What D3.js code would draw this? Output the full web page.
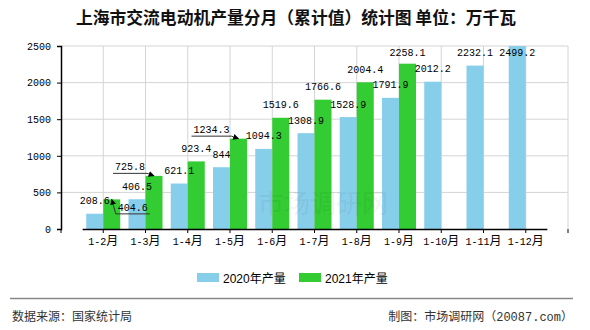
<!DOCTYPE html>
<html>
<head>
<meta charset="utf-8">
<script src="https://cdn.jsdelivr.net/npm/d3@7"></script>
<style>
  body { margin: 0; background: #fff; overflow: hidden; }
  svg { display: block; }
</style>
</head>
<body>
<div id="chart"></div>
<script>

// data
const months = ["1-2月", "1-3月", "1-4月", "1-5月", "1-6月", "1-7月", "1-8月", "1-9月", "1-10月", "1-11月", "1-12月"];
const prod2020 = [208.6, 406.5, 621.1, 844, 1094.3, 1308.9, 1528.9, 1791.9, 2012.2, 2232.1, 2499.2];
const prod2021 = [404.6, 725.8, 923.4, 1234.3, 1519.6, 1766.6, 2004.4, 2258.1, null, null, null];
const yTicks = [0, 500, 1000, 1500, 2000, 2500];
const seriesNames = ["2020年产量", "2021年产量"];

const width = 590;
const height = 330;
const margin = { top: 46, right: 22, bottom: 101, left: 61 };
const innerWidth = width - margin.left - margin.right;
const innerHeight = height - margin.top - margin.bottom;

const blue = "#87ceeb";
const green = "#33cc33";
const gridColor = "#d4d4d4";
const cjk = "'Noto Sans CJK SC', sans-serif";
const mono = "'Liberation Mono', 'Noto Sans CJK SC', monospace";

const svg = d3.select("#chart")
  .append("svg")
    .attr("width", width)
    .attr("height", height);

// arrow head for the moved labels
svg.append("defs")
  .append("marker")
    .attr("id", "arrow")
    .attr("viewBox", "0 0 10 10")
    .attr("refX", 9)
    .attr("refY", 5)
    .attr("markerWidth", 6)
    .attr("markerHeight", 6)
    .attr("orient", "auto")
  .append("path")
    .attr("d", "M0,0 L10,5 L0,10 Z")
    .attr("fill", "#000");

// title
svg.append("text")
    .attr("x", 296)
    .attr("y", 24)
    .attr("text-anchor", "middle")
    .attr("font-family", cjk)
    .attr("font-size", 16.8)
    .attr("font-weight", "bold")
    .attr("fill", "#111")
    .text("上海市交流电动机产量分月（累计值）统计图 单位：万千瓦");

const inner = svg.append("g")
    .attr("transform", `translate(${margin.left}, ${margin.top})`);

// one empty slot at each end, so the band range is pulled in half a step
const step = innerWidth / (months.length + 1);
const xScale = d3.scaleBand()
    .domain(months)
    .range([step / 2, innerWidth - step / 2])
    .paddingInner(0);
const center = m => xScale(m) + xScale.bandwidth() / 2;

const yScale = d3.scaleLinear()
    .domain([0, 2500])
    .range([innerHeight, 0]);

const barW = 17;

// grid
inner.append("g")
  .selectAll("line")
  .data(yTicks.slice(1))
  .join("line")
    .attr("x1", 0)
    .attr("x2", innerWidth)
    .attr("y1", d => yScale(d))
    .attr("y2", d => yScale(d))
    .attr("stroke", gridColor);

inner.append("g")
  .selectAll("line")
  .data(months)
  .join("line")
    .attr("x1", d => center(d))
    .attr("x2", d => center(d))
    .attr("y1", 0)
    .attr("y2", innerHeight)
    .attr("stroke", gridColor);

inner.append("line")
    .attr("x1", innerWidth)
    .attr("x2", innerWidth)
    .attr("y1", 0)
    .attr("y2", innerHeight)
    .attr("stroke", gridColor);

// bars
const rows = months.map((m, i) => ({ m, a: prod2020[i], b: prod2021[i] }));

inner.append("g")
  .selectAll("rect")
  .data(rows)
  .join("rect")
    .attr("x", d => center(d.m) - barW)
    .attr("y", d => yScale(d.a))
    .attr("width", barW)
    .attr("height", d => innerHeight - yScale(d.a))
    .attr("fill", blue);

inner.append("g")
  .selectAll("rect")
  .data(rows.filter(d => d.b != null))
  .join("rect")
    .attr("x", d => center(d.m))
    .attr("y", d => yScale(d.b))
    .attr("width", barW)
    .attr("height", d => innerHeight - yScale(d.b))
    .attr("fill", green);

// watermark
inner.append("text")
    .attr("x", 197)
    .attr("y", 167)
    .attr("font-family", cjk)
    .attr("font-size", 26)
    .attr("fill", "#000")
    .attr("opacity", 0.045)
    .text("市场调研网");

// axes
const yAxis = inner.append("g")
    .call(d3.axisLeft(yScale).tickValues(yTicks).tickSize(4).tickPadding(6).tickFormat(d3.format("d")));

const xAxis = inner.append("g")
    .attr("transform", `translate(0, ${innerHeight})`)
    .call(d3.axisBottom(xScale).tickSize(4).tickPadding(5).tickSizeOuter(0))
    .call(g => g.selectAll(".tick").attr("transform", d => `translate(${center(d)},0)`));

// outer ticks at both ends of the x axis
xAxis.selectAll(".end-tick")
  .data([0, innerWidth])
  .join("line")
    .attr("class", "end-tick")
    .attr("x1", d => d)
    .attr("x2", d => d)
    .attr("y1", 0)
    .attr("y2", 4)
    .attr("stroke", "#000");

[yAxis, xAxis].forEach(g => {
  g.select(".domain").attr("stroke", "#000").attr("stroke-width", 1.5);
  g.selectAll(".tick line").attr("stroke", "#000");
  g.selectAll(".tick text")
    .attr("fill", "#000")
    .attr("font-family", mono)
    .attr("font-size", 10);
});

// x labels: digits small, 月 a bit bigger
xAxis.selectAll(".tick text")
    .text(null)
    .call(t => t.append("tspan").text(d => d.slice(0, -1)))
    .call(t => t.append("tspan").attr("font-family", cjk).attr("font-size", 12).text("月"));

// value labels
const labels = [];
rows.forEach(d => {
  labels.push({ v: d.a, x: center(d.m) - barW / 2, top: yScale(d.a), series: 0, m: d.m });
  if (d.b != null) labels.push({ v: d.b, x: center(d.m) + barW / 2, top: yScale(d.b), series: 1, m: d.m });
});

// labels that were pushed aside to avoid overlaps, with a leader line back to the bar
const moved = {
  "1-1-2月": [21, 21],
  "1-1-3月": [-24, 4],
  "1-1-5月": [-27, 4]
};

labels.forEach(l => {
  const key = `${l.series}-${l.m}`;
  const shift = moved[key] || [0, 0];
  l.lx = l.x + shift[0];
  l.ly = Math.max(l.top - 9.5, 9.7) + shift[1];
  l.moved = !!moved[key];
});

const labelG = inner.append("g");

labelG.selectAll("text")
  .data(labels)
  .join("text")
    .attr("x", d => d.lx)
    .attr("y", d => d.ly)
    .attr("text-anchor", "middle")
    .attr("font-family", mono)
    .attr("font-size", 10)
    .attr("fill", "#000")
    .text(d => d3.format(".1~f")(d.v));

labels.filter(l => l.moved).forEach(l => {
  const hw = String(l.v).length * 3 + 2;
  const uy = l.ly + 3;
  const near = l.x > l.lx ? l.lx + hw : l.lx - hw;
  const far = l.x > l.lx ? l.lx - hw : l.lx + hw;
  labelG.append("path")
      .attr("d", `M${far},${uy} L${near},${uy} L${l.x},${l.top}`)
      .attr("fill", "none")
      .attr("stroke", "#333")
      .attr("stroke-width", 1)
      .attr("marker-end", "url(#arrow)");
});

// legend
const legend = svg.append("g").attr("transform", "translate(197, 273)");
[blue, green].forEach((c, i) => {
  const item = legend.append("g").attr("transform", `translate(${i * 102}, 0)`);
  item.append("rect")
      .attr("width", 22)
      .attr("height", 9)
      .attr("fill", c);
  item.append("text")
      .attr("x", 26)
      .attr("y", 9.5)
      .attr("font-family", "'Liberation Sans', 'Noto Sans CJK SC', sans-serif")
      .attr("font-size", 12)
      .attr("fill", "#000")
      .text(seriesNames[i]);
});

// footer
svg.append("line")
    .attr("x1", 10)
    .attr("x2", 573)
    .attr("y1", 298.5)
    .attr("y2", 298.5)
    .attr("stroke", "#888")
    .attr("stroke-width", 1.5);

svg.append("text")
    .attr("x", 12)
    .attr("y", 321)
    .attr("font-family", cjk)
    .attr("font-size", 12)
    .attr("fill", "#333")
    .text("数据来源：国家统计局");

svg.append("text")
    .attr("x", 573)
    .attr("y", 321)
    .attr("text-anchor", "end")
    .attr("font-family", mono)
    .attr("font-size", 12)
    .attr("fill", "#333")
    .text("制图：市场调研网（20087.com）");

</script>
</body>
</html>
